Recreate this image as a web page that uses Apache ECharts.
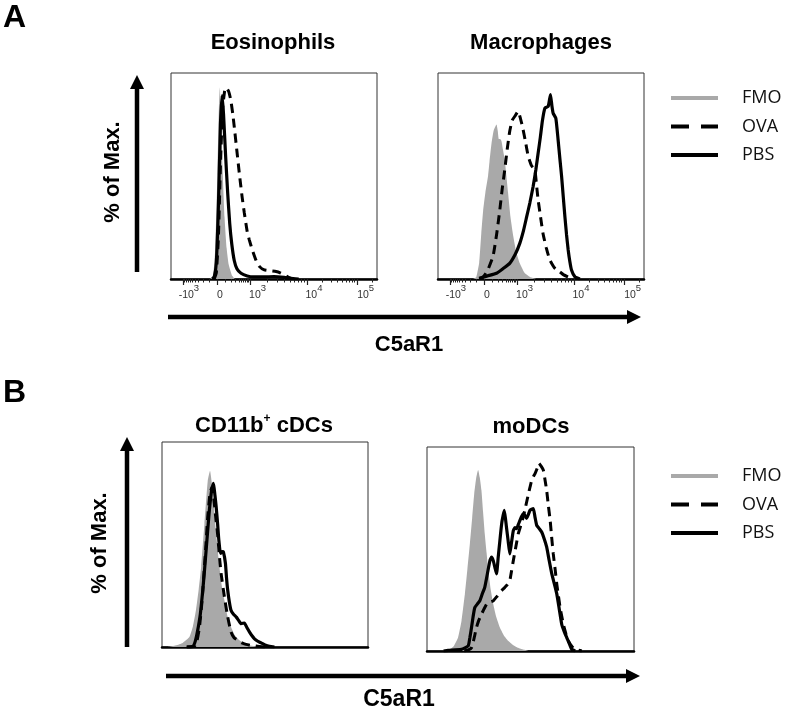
<!DOCTYPE html>
<html>
<head>
<meta charset="utf-8">
<script src="https://cdn.jsdelivr.net/npm/echarts@6/dist/echarts.min.js"></script>
<style>
html, body { margin: 0; padding: 0; background: #fff; }
#chart { width: 788px; height: 712px; }
</style>
</head>
<body>
<div id="chart"></div>
<script>
// ----------- 数据 -----------
// x: 显示位置 (轴宽度 0-100), y: % of Max.
var legend_names = ["FMO", "OVA", "PBS"]
var panel_titles = ["Eosinophils", "Macrophages", "CD11b+ cDCs", "moDCs"]

// 双指数轴刻度 (A 图)
var major_tick_pos = [6, 22.5, 38.3, 66, 90.3]
var tick_label_pos = [8.7, 23.8, 42, 69.4, 94.5]
var tick_labels = [["-10", "3"], ["0", ""], ["10", "3"], ["10", "4"], ["10", "5"]]

// Eosinophils
var eos_fmo = [[19,0],[20.5,2],[21.5,15],[22.5,50],[23.3,85],[23.7,93],[24.3,80],[25,55],[26,30],[27,15],[28,7],[29.5,2],[31,0]]
var eos_ova = [[21,0],[22,3],[23,20],[24,55],[25,82],[26,91],[26.7,93],[28,91],[29,87],[30,80],[30.7,74],[32,62],[33.2,51],[34.5,40],[35.6,32],[37,23],[38,19],[39.5,14],[41.3,9],[43,6],[45.3,4.4],[48,4],[51,3.6],[53,3],[55,2],[57,0.8],[59,0]]
var eos_pbs = [[20,0],[21,1],[22,8],[23,35],[24,75],[24.8,89],[25.5,80],[26.5,60],[27.5,42],[28.5,27],[29.5,17],[30.7,9],[32,5],[34,2.8],[37,1.5],[40,1],[45,1],[50,1.2],[55,0.8],[58,0.3],[62,0]]

// Macrophages
var mac_fmo = [[17,0],[18.6,1],[20,8],[21,22],[21.9,33],[23,42],[24.3,50],[25,57],[26,66],[27,72],[28.4,75],[29,72],[29.5,68],[30.2,68],[30.8,67],[31.5,63],[32.4,58],[33.2,50],[34,42],[35.2,30],[36.5,21],[38,13],[39.7,7.6],[42,3],[44.6,1],[47.8,0]]
var mac_ova = [[20,0],[21.9,1],[24,4],[26.7,11],[28.5,22],[30,33.5],[31.2,44],[32.4,53],[33.6,63],[34.8,71.6],[36,77],[37.3,79],[38.9,81.4],[40,78],[41,74],[42.4,67],[43.8,59.5],[45.4,55],[47,53],[47.8,46],[48.6,38.4],[49.8,30],[51,22],[52.6,15],[54.3,9.2],[56.5,5.5],[59,3.6],[61,2],[63.2,1],[65.6,0]]
var mac_pbs = [[20,0.3],[24,1.5],[28.4,2.8],[31.5,5],[34.8,7.6],[37.5,12],[39.7,17.3],[41.5,23.5],[43,30],[44.6,37],[46.2,45],[47.5,53],[48.6,61],[49.7,69],[50.7,77],[51.9,83],[53.5,83.8],[54.6,89.5],[55.3,84],[55.9,80.5],[57.2,78],[58.3,67.6],[59.2,58],[60,49.8],[60.8,40],[61.6,30.3],[62.4,21.5],[63.2,14.1],[64,8.5],[64.8,4.4],[66.5,1],[68.9,0]]

// CD11b+ cDCs
var cdc_fmo = [[3,0],[6.8,0.8],[10,2],[13.3,4.9],[15,10],[16.5,18],[17.8,28],[19,39],[20.6,60],[22.2,81],[23.3,86],[24.6,76.5],[25.4,66],[26.3,55],[27.9,39],[29,30],[30.3,22.8],[31.8,15],[33.5,9.8],[35.5,5.5],[37.6,3.3],[40,1.8],[42.5,0.8],[47.3,0]]
var cdc_ova = [[12,0],[15.7,0.3],[17,3],[18.2,9.8],[19.4,22],[20.6,39],[21.4,51],[22.2,63.5],[23.3,75],[24.3,78],[25.4,70],[26.2,62],[27,55],[27.8,45],[28.7,35.8],[30.3,24.4],[31.9,14.7],[33.5,7.3],[35,4.5],[36.8,3.3],[38.8,2],[40.8,1.3],[44,0.6],[47.3,0.3],[50,0]]
var cdc_pbs = [[12,0],[15,0.3],[16.2,3],[17.3,8],[18.6,16],[19.8,27.7],[20.6,37],[21.4,47],[22.2,57],[23,66.8],[24.1,76.5],[25,79.8],[25.7,74],[26.3,68.4],[27,60],[27.6,52],[28.4,45.6],[29.2,46.5],[29.8,46.4],[30.8,40.7],[31.3,34],[31.9,27.7],[32.7,22],[33.5,17.9],[34.7,16],[36,14.7],[37.2,13],[38.4,11.4],[40,11.7],[41.2,9.5],[42.5,7.3],[43.7,5.5],[44.9,4],[46.5,2.8],[48.1,2],[50,1],[52.2,0.3],[54.6,0]]

// moDCs
var modc_fmo = [[8,0],[11,0.8],[13,2.5],[15,6.6],[16.7,15],[18.3,28],[19.5,40],[20.7,52.5],[21.8,65],[22.8,77],[23.8,85],[24.7,88.7],[25.5,85],[26.3,78.8],[27.1,68],[27.9,57.5],[28.8,48],[29.6,39.4],[30.8,30],[32,23],[33.5,16.5],[35.2,11.5],[37.2,7.5],[39.3,4.9],[41.5,3],[44,1.6],[46.5,0.7],[49,0]]
var modc_ova = [[18,0],[20,0.5],[21.5,1.6],[22.7,6],[23.9,11.5],[25,15],[26.3,18],[27.5,20.5],[28.8,23],[30.4,24],[32,24.6],[33.6,26.5],[35.2,28.7],[36.4,30],[37.6,31.2],[38.8,32.5],[40,34.5],[40.8,39],[41.7,44.3],[42.9,51],[44.1,57.5],[45.3,61.5],[46.5,65.7],[47.7,71],[49,77],[49.8,80.5],[50.6,83.7],[51.4,85.5],[52.2,87],[53.2,89.5],[54.1,92],[55.2,90.5],[56.2,88.7],[57,84],[57.8,78.8],[58.6,71.5],[59.5,64],[60.2,56],[61,47.6],[61.9,40],[62.7,32.8],[63.5,27],[64.3,21.3],[65.1,17],[65.9,13],[67.1,8.5],[68.3,4.9],[70,2.2],[71.6,0.8],[74.8,0]]
var modc_pbs = [[8,0],[10.2,0.3],[16.6,0.8],[19.9,2.5],[20.7,6.5],[21.5,11.5],[22.3,17],[23.1,21.3],[24.3,23],[25.5,24.6],[26.7,28],[27.9,31.2],[29.2,38],[30.4,44.3],[31.2,46],[32,44.3],[32.8,41],[33.6,37.8],[34.4,46],[35.2,54],[35.8,60],[36.3,64],[37.3,69],[37.9,65],[38.4,60.6],[39.2,54],[40,47.6],[40.8,53],[41.7,59],[42.5,60.5],[43.3,60],[44.1,62],[44.9,64],[45.7,66],[46.5,67.3],[47.3,66.5],[48.1,65],[49,67],[49.8,69],[50.6,69.5],[51.4,69.8],[52.2,65.5],[53,61.6],[54.2,60],[55.4,58.3],[56.6,55],[57.8,51],[59,44.5],[60.3,37.8],[61.5,33],[62.7,28],[63.9,20.5],[65.1,13],[66.3,9.5],[67.5,6.6],[68.8,3.5],[70,0.8],[71.6,0]]

// ----------- 布局 -----------
var grids = [
    { left: 171, top: 73, width: 206, height: 206 },
    { left: 438, top: 73, width: 206, height: 206 },
    { left: 162, top: 442, width: 206, height: 205 },
    { left: 427, top: 447, width: 207, height: 204 }
]

// 小刻度 (双指数轴)
function get_minor_ticks() {
    var list = []
    for (var k = 1; k <= 9; k++) {
        var f = Math.asinh(k * 100 / 150) / Math.asinh(1000 / 150)
        list.push(major_tick_pos[1] + (major_tick_pos[2] - major_tick_pos[1]) * f)
        list.push(major_tick_pos[1] - (major_tick_pos[1] - major_tick_pos[0]) * f)
    }
    for (var k = 2; k <= 9; k++) {
        list.push(major_tick_pos[2] + (major_tick_pos[3] - major_tick_pos[2]) * Math.log10(k))
        list.push(major_tick_pos[3] + (major_tick_pos[4] - major_tick_pos[3]) * Math.log10(k))
    }
    list.push(major_tick_pos[4] + (major_tick_pos[4] - major_tick_pos[3]) * Math.log10(2))
    return list
}
var minor_ticks = get_minor_ticks()

var axis_line = { show: true, lineStyle: { color: "#000", width: 2.5 } }

function major_axis(grid_index) {
    return {
        gridIndex: grid_index, type: "value", min: 0, max: 100,
        axisLine: axis_line,
        splitLine: { show: false },
        axisTick: { show: true, customValues: major_tick_pos, length: 6, lineStyle: { color: "#222", width: 1.2 } },
        axisLabel: {
            show: true, customValues: tick_label_pos, margin: 4,
            formatter: function (value) {
                var lab = tick_labels[tick_label_pos.indexOf(value)]
                if (!lab) return ""
                return lab[1] ? "{n|" + lab[0] + "}{s|" + lab[1] + "}" : "{n|" + lab[0] + "}"
            },
            rich: {
                n: { fontSize: 10.5, color: "#333", fontFamily: "Liberation Sans", lineHeight: 18, verticalAlign: "bottom" },
                s: { fontSize: 9.5, color: "#333", fontFamily: "Liberation Sans", lineHeight: 18, verticalAlign: "top" }
            }
        }
    }
}
function minor_axis(grid_index) {
    return {
        gridIndex: grid_index, type: "value", min: 0, max: 100, position: "bottom",
        axisLine: { show: false },
        splitLine: { show: false },
        axisLabel: { show: false },
        axisTick: { show: true, customValues: minor_ticks, length: 3.5, lineStyle: { color: "#222", width: 1 } }
    }
}
function plain_axis(grid_index) {
    return {
        gridIndex: grid_index, type: "value", min: 0, max: 100,
        axisLine: axis_line, splitLine: { show: false },
        axisTick: { show: false }, axisLabel: { show: false }
    }
}

var x_axes = [major_axis(0), minor_axis(0), major_axis(1), minor_axis(1), plain_axis(2), plain_axis(3)]
var y_axes = [0, 1, 2, 3].map(function (i) {
    return { gridIndex: i, type: "value", min: 0, max: 100, show: false }
})

// 每个面板的数据 [FMO, OVA, PBS] 与 x 轴
var panel_data = [
    [eos_fmo, eos_ova, eos_pbs, 0],
    [mac_fmo, mac_ova, mac_pbs, 2],
    [cdc_fmo, cdc_ova, cdc_pbs, 4],
    [modc_fmo, modc_ova, modc_pbs, 5]
]

var series = []
panel_data.forEach(function (p, i) {
    series.push({
        name: legend_names[0], type: "line", xAxisIndex: p[3], yAxisIndex: i, data: p[0],
        showSymbol: false, symbol: "none", smooth: 0.15, z: 1,
        lineStyle: { width: 0 }, areaStyle: { color: "#a9a9a9", opacity: 1 }
    })
    series.push({
        name: legend_names[1], type: "line", xAxisIndex: p[3], yAxisIndex: i, data: p[1],
        showSymbol: false, symbol: "none", smooth: 0.15, z: 3,
        lineStyle: { color: "#000", width: 3, type: [9, 6] }
    })
    series.push({
        name: legend_names[2], type: "line", xAxisIndex: p[3], yAxisIndex: i, data: p[2],
        showSymbol: false, symbol: "none", smooth: 0.15, z: 4,
        lineStyle: { color: "#000", width: 3.2 }
    })
})

// ----------- 装饰: 字母, 标题, 箭头, 图例 -----------
var bold = "bold {s}px 'Liberation Sans', Arial, sans-serif"
function font_b(size) { return bold.replace("{s}", size) }

function text_el(x, y, txt, font, rotation) {
    return {
        type: "text", x: x, y: y, rotation: rotation || 0, z: 10,
        style: { text: txt, font: font, fill: "#000", textAlign: "center", textVerticalAlign: "middle" }
    }
}
function arrow_up(x, y_bottom, y_tip) {
    return [
        { type: "line", z: 10, shape: { x1: x, y1: y_bottom, x2: x, y2: y_tip + 12 }, style: { stroke: "#000", lineWidth: 4.5 } },
        { type: "polygon", z: 10, shape: { points: [[x - 7, y_tip + 14], [x + 7, y_tip + 14], [x, y_tip]] }, style: { fill: "#000" } }
    ]
}
function arrow_right(y, x_start, x_tip) {
    return [
        { type: "line", z: 10, shape: { x1: x_start, y1: y, x2: x_tip - 12, y2: y }, style: { stroke: "#000", lineWidth: 4.5 } },
        { type: "polygon", z: 10, shape: { points: [[x_tip - 14, y - 7], [x_tip - 14, y + 7], [x_tip, y]] }, style: { fill: "#000" } }
    ]
}
function legend_els(y0) {
    var styles = [
        { stroke: "#a9a9a9", lineWidth: 4 },
        { stroke: "#000", lineWidth: 4, lineDash: [18, 12] },
        { stroke: "#000", lineWidth: 4 }
    ]
    var els = []
    legend_names.forEach(function (name, i) {
        var y = y0 + i * 28.5
        els.push({ type: "line", z: 10, shape: { x1: 671, y1: y, x2: 718, y2: y }, style: styles[i] })
        els.push({
            type: "text", x: 742, y: y, z: 10,
            style: { text: name, font: "18px 'Open Sans', sans-serif", fill: "#111", textAlign: "left", textVerticalAlign: "middle" }
        })
    })
    return els
}

var graphics = [
    { type: "text", x: 3, y: 18, z: 10, style: { text: "A", font: font_b(32), fill: "#000", textAlign: "left", textVerticalAlign: "middle" } },
    { type: "text", x: 3, y: 393, z: 10, style: { text: "B", font: font_b(32), fill: "#000", textAlign: "left", textVerticalAlign: "middle" } },
    text_el(273, 43, panel_titles[0], font_b(22)),
    text_el(541, 43, panel_titles[1], font_b(22)),
    {
        type: "text", x: 264, y: 425, z: 10,
        style: {
            text: "{a|CD11b}{s|+}{a| cDCs}", textAlign: "center", textVerticalAlign: "middle",
            rich: {
                a: { font: font_b(22), fill: "#000", lineHeight: 24, verticalAlign: "bottom" },
                s: { font: font_b(12), fill: "#000", lineHeight: 24, verticalAlign: "top" }
            }
        }
    },
    text_el(531, 427, panel_titles[3], font_b(22)),
    text_el(113, 172, "% of Max.", font_b(22), Math.PI / 2),
    text_el(100, 543, "% of Max.", font_b(22), Math.PI / 2),
    text_el(409, 345, "C5aR1", font_b(22)),
    text_el(399, 700, "C5aR1", font_b(23))
]
graphics = graphics
    .concat(arrow_up(137, 272, 75))
    .concat(arrow_up(127, 647, 437))
    .concat(arrow_right(317, 168, 641))
    .concat(arrow_right(676, 166, 640))
    .concat(legend_els(98))
    .concat(legend_els(476))

var chart = echarts.init(document.getElementById("chart"))
var option = {
    animation: false,
    backgroundColor: "#fff",
    grid: grids.map(function (g) {
        return {
            left: g.left, top: g.top, width: g.width, height: g.height,
            show: true, borderColor: "#333", borderWidth: 1, backgroundColor: "#fff",
            containLabel: false, outerBoundsMode: "none"
        }
    }),
    xAxis: x_axes,
    yAxis: y_axes,
    series: series,
    graphic: graphics
}
chart.setOption(option)
</script>
</body>
</html>
